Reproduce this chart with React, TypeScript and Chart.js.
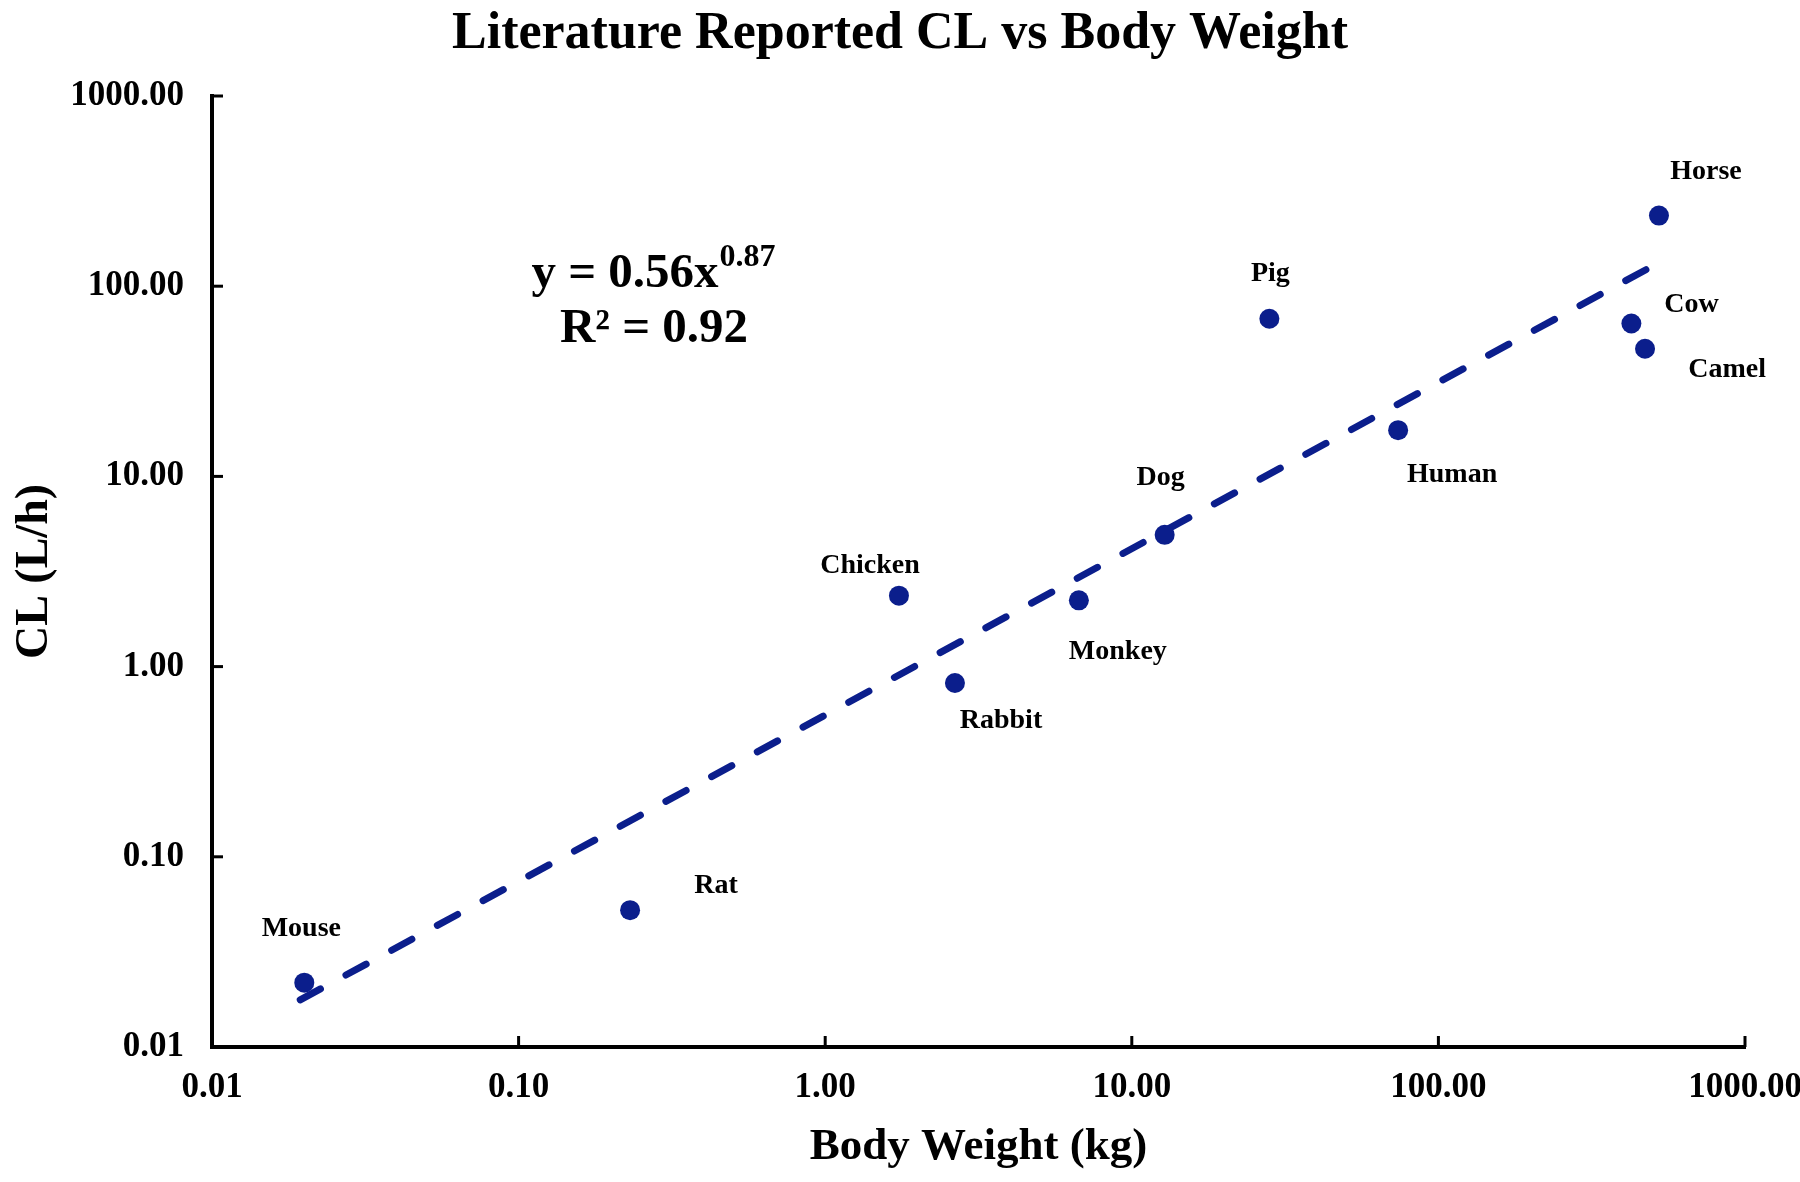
import React, { useEffect, useRef } from 'react';
import { Chart, registerables } from 'chart.js';

Chart.register(...registerables);

// ---------- data ----------
const species = ['Mouse', 'Rat', 'Chicken', 'Rabbit', 'Monkey', 'Dog', 'Pig', 'Human', 'Cow', 'Camel', 'Horse'];
const bodyWeightKg = [0.02, 0.231, 1.74, 2.65, 6.72, 12.8, 28.1, 73.9, 426, 472, 524];
const clearanceLh = [0.0218, 0.0524, 2.36, 0.82, 2.23, 4.93, 67.4, 17.5, 63.7, 46.9, 235];
const trendX = [0.0194, 533];
const trendY = [0.0177, 135];
const tickValues = [0.01, 0.1, 1, 10, 100, 1000];
const titleText = 'Literature Reported CL vs Body Weight';
const xTitle = 'Body Weight (kg)';
const yTitle = 'CL (L/h)';
const equationMain = 'y = 0.56x';
const equationExp = '0.87';
const r2Text = 'R² = 0.92';

// ---------- styles ----------
const FONT = '"Liberation Serif", "Times New Roman", serif';
const DOT = '#0b1e8c';
const labelOffsets: [number, number][] = [
  [-3, -54], [86, -24], [-29, -30], [46, 38], [39, 51], [-4, -57], [1, -45], [54, 45], [60, -19], [82, 21], [47, -44],
];

const titlePlugin = {
  id: 'customTitle',
  afterDraw(chart: any) {
    const ctx = chart.ctx;
    ctx.save();
    ctx.font = `bold 52px ${FONT}`;
    ctx.fillStyle = '#000';
    ctx.textAlign = 'center';
    ctx.textBaseline = 'alphabetic';
    ctx.fillText(titleText, chart.width / 2, 48);
    ctx.restore();
  },
};

const pointLabelPlugin = {
  id: 'pointLabels',
  afterDatasetsDraw(chart: any) {
    const ctx = chart.ctx;
    const meta = chart.getDatasetMeta(0);
    ctx.save();
    ctx.font = `bold 28px ${FONT}`;
    ctx.fillStyle = '#000';
    ctx.textAlign = 'center';
    ctx.textBaseline = 'middle';
    meta.data.forEach((el: any, i: number) => {
      const [dx, dy] = labelOffsets[i];
      ctx.fillText(species[i], el.x + dx, el.y + dy);
    });
    ctx.restore();
  },
};

const innerTicksPlugin = {
  id: 'innerTicks',
  afterDraw(chart: any) {
    const ctx = chart.ctx;
    const { left, bottom } = chart.chartArea;
    const xs = chart.scales.x;
    const ys = chart.scales.y;
    ctx.save();
    ctx.strokeStyle = '#000';
    ctx.lineWidth = 3;
    tickValues.forEach((v) => {
      const px = xs.getPixelForValue(v);
      ctx.beginPath();
      ctx.moveTo(px, bottom);
      ctx.lineTo(px, bottom - 11);
      ctx.stroke();
      const py = ys.getPixelForValue(v);
      ctx.beginPath();
      ctx.moveTo(left, py);
      ctx.lineTo(left + 11, py);
      ctx.stroke();
    });
    ctx.fillStyle = '#000';
    ctx.fillRect(left - 2, bottom - 2, 4, 4);
    ctx.restore();
  },
};

const equationPlugin = {
  id: 'equation',
  afterDraw(chart: any) {
    const ctx = chart.ctx;
    ctx.save();
    ctx.fillStyle = '#000';
    ctx.textBaseline = 'alphabetic';
    const mainFont = `bold 49px ${FONT}`;
    const supFont = `bold 32px ${FONT}`;
    ctx.font = mainFont;
    const w1 = ctx.measureText(equationMain).width;
    ctx.font = supFont;
    const w2 = ctx.measureText(equationExp).width;
    const cx = 653;
    const startX = cx - (w1 + w2) / 2;
    ctx.textAlign = 'left';
    ctx.font = mainFont;
    ctx.fillText(equationMain, startX, 287);
    ctx.font = supFont;
    ctx.fillText(equationExp, startX + w1 + 1, 266);
    ctx.font = mainFont;
    ctx.textAlign = 'center';
    ctx.fillText(r2Text, 654, 342);
    ctx.restore();
  },
};

export default function App() {
  const canvasRef = useRef<HTMLCanvasElement | null>(null);

  useEffect(() => {
    if (!canvasRef.current) return;
    const tickFont = { family: FONT, size: 35, weight: 'bold' as const };
    const chart = new Chart(canvasRef.current, {
      type: 'scatter',
      data: {
        datasets: [
          {
            label: 'CL',
            data: species.map((_, i) => ({ x: bodyWeightKg[i], y: clearanceLh[i] })),
            pointRadius: 10,
            pointBackgroundColor: DOT,
            pointBorderWidth: 0,
            backgroundColor: DOT,
            showLine: false,
          },
          {
            label: 'Fit',
            data: trendX.map((x, i) => ({ x, y: trendY[i] })),
            showLine: true,
            borderColor: DOT,
            borderWidth: 7,
            borderDash: [23, 29],
            borderCapStyle: 'round',
            pointRadius: 0,
            fill: false,
          } as any,
        ],
      },
      options: {
        responsive: false,
        animation: false,
        devicePixelRatio: 1,
        layout: { padding: { top: 96, right: 55, bottom: 0, left: 0 } },
        plugins: {
          legend: { display: false },
          tooltip: { enabled: false },
          title: { display: false },
        },
        scales: {
          x: {
            type: 'logarithmic',
            min: 0.01,
            max: 1000,
            afterBuildTicks: (s: any) => {
              s.ticks = tickValues.map((v) => ({ value: v }));
            },
            afterFit: (s: any) => {
              s.height = 135;
              s.paddingLeft = 0;
              s.paddingRight = 0;
            },
            ticks: {
              callback: (v: any) => Number(v).toFixed(2),
              autoSkip: false,
              maxRotation: 0,
              padding: 20,
              color: '#000',
              font: tickFont,
            },
            grid: { display: false, drawTicks: false, drawOnChartArea: false },
            border: { display: true, color: '#000', width: 4 },
            title: {
              display: true,
              text: xTitle,
              color: '#000',
              font: { family: FONT, size: 45, weight: 'bold', lineHeight: 1.2 },
              padding: { top: 0, bottom: 8 },
            },
          },
          y: {
            type: 'logarithmic',
            min: 0.01,
            max: 1000,
            afterBuildTicks: (s: any) => {
              s.ticks = tickValues.map((v) => ({ value: v }));
            },
            afterFit: (s: any) => {
              s.width = 212;
              s.paddingTop = 0;
              s.paddingBottom = 0;
            },
            ticks: {
              callback: (v: any) => Number(v).toFixed(2),
              autoSkip: false,
              padding: 28,
              color: '#000',
              font: tickFont,
            },
            grid: { display: false, drawTicks: false, drawOnChartArea: false },
            border: { display: true, color: '#000', width: 4 },
            title: {
              display: true,
              text: yTitle,
              color: '#000',
              font: { family: FONT, size: 46, weight: 'bold', lineHeight: 1.2 },
              padding: { top: 8, bottom: 0 },
            },
          },
        },
      },
      plugins: [pointLabelPlugin, innerTicksPlugin, equationPlugin, titlePlugin],
    });
    return () => chart.destroy();
  }, []);

  return (
    <div style={{ position: 'fixed', left: 0, top: 0, width: 1800, height: 1182, background: '#fff' }}>
      <canvas ref={canvasRef} width={1800} height={1182} />
    </div>
  );
}
